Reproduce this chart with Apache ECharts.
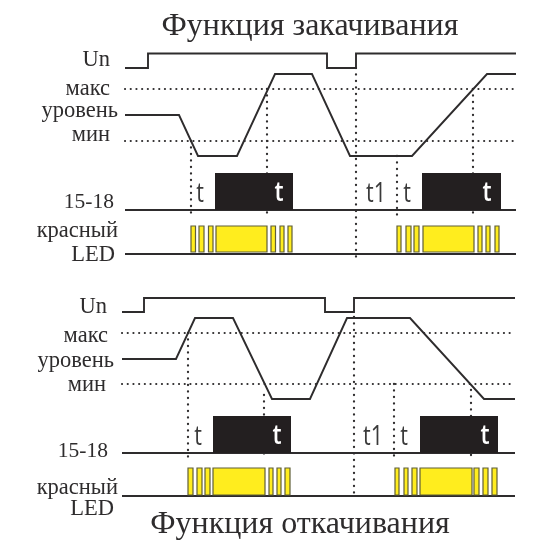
<!DOCTYPE html>
<html><head><meta charset="utf-8">
<style>html,body{margin:0;padding:0;background:#fff}#c{width:550px;height:550px}</style>
<script src="https://cdn.jsdelivr.net/npm/echarts@6/dist/echarts.min.js"></script>
</head><body><div id="c"></div>
<script>
// x = time units, y = signal height units inside each panel
const topUn = [[0,192],[23,192],[23,206.5],[202,206.5],[202,192],[231,192],[231,206.5],[391,206.5]];
const topLevel = [[0,145],[54,145],[73,104],[112,104],[150,186],[187,186],[225,104],[287,104],[362,186],[391,186]];
const topMax = 171, topMin = 119;
const topGuides = [[66,119,43],[142,171,43],[231,192,2],[272,104,43],[348,171,43]];
const topRelay = [[90,168],[297,376]];
const topRelayBase = 50, topRelayHigh = 87;
const topLed = [[66,70.5],[74,79],[83.5,88],[91,142],[146,150.5],[155,159],[163,167],[272,276],[281,286],[289,294],[298,349],[353,357],[361,365],[370,374]];
const topLedBase = 6, topLedLow = 8, topLedHigh = 34;

const botUn = [[0,188],[22,188],[22,202],[203,202],[203,188],[232,188],[232,202],[393,202]];
const botLevel = [[0,141],[54,141],[73,182],[111,182],[150,101],[188,101],[225,182],[288,182],[362,101],[393,101]];
const botMax = 167, botMin = 116;
const botGuides = [[66,167,42],[142,105,42],[232,183,2],[272,116,42],[349,110,42]];
const botRelay = [[91,169],[298,376]];
const botRelayBase = 47, botRelayHigh = 84;
const botLed = [[66,71],[75,80],[83,88],[91,143],[147,151],[155,159],[163,168],[273,277],[282,286],[290,295],[298,350],[352,357],[361,366],[370,375]];
const botLedBase = 4, botLedLow = 5, botLedHigh = 32;

const laneLabels = ['Un','макс','уровень','мин','15-18','красный','LED'];
const topLabelRight = [110,110,118,110,114,118,115];
const topLabelY = [60,89,111,135,202,231,255];
const botLabelRight = [107,108,114,106,108,118,114];
const botLabelY = [307,336,361,385,451,488,509];
const titles = ['Функция закачивания','Функция откачивания'];

const INK = '#2e2c2d';
const ser = [];
const line = (g, data, w, dash) => ser.push({
  type:'line', xAxisIndex:g, yAxisIndex:g, data, showSymbol:false, symbol:'none', silent:true,
  z: dash ? 1 : 3, clip:false,
  lineStyle:{color:INK, width:w, type: dash ? [0.1,dash] : 'solid', cap: dash ? 'round':'butt', join:'miter'}
});
const rects = (g, data, low, high, fill, stroke, z) => ser.push({
  type:'custom', xAxisIndex:g, yAxisIndex:g, silent:true, z, clip:false,
  data: data.map(d => [d[0], d[1], low, high]),
  encode:{x:[0,1], y:[2,3]},
  renderItem:(p, api) => {
    const a = api.coord([api.value(0), api.value(3)]);
    const b = api.coord([api.value(1), api.value(2)]);
    return {type:'rect', shape:{x:a[0], y:a[1], width:b[0]-a[0], height:b[1]-a[1]},
      style:{fill, stroke, lineWidth: stroke ? 1.2 : 0}};
  }
});
function panel(g, un, level, max, min, guides, relay, rb, rh, led, lb, ll, lh, xEnd){
  line(g, [[0,max],[xEnd,max]], 2.1, 5.6);
  line(g, [[0,min],[xEnd,min]], 2.1, 5.6);
  guides.forEach(v => line(g, [[v[0],v[1]],[v[0],v[2]]], 2.3, 6.4));
  line(g, un, 1.9);
  line(g, level, 1.9);
  rects(g, relay, rb, rh, '#231f20', null, 4);
  line(g, [[0,rb],[xEnd,rb]], 1.9);
  rects(g, led, ll, lh, '#ffed1e', '#5f5e38', 4);
  line(g, [[0,lb],[xEnd,lb]], 2);
}
panel(0, topUn, topLevel, topMax, topMin, topGuides, topRelay, topRelayBase, topRelayHigh, topLed, topLedBase, topLedLow, topLedHigh, 391);
panel(1, botUn, botLevel, botMax, botMin, botGuides, botRelay, botRelayBase, botRelayHigh, botLed, botLedBase, botLedLow, botLedHigh, 393);

const SERIF = '"Liberation Serif", serif';
const txt = (s, x, y, size, align, fam, fill, weight, sx) => ({type:'text', silent:true, z:10, x, y, scaleX:sx||1,
  style:{text:s, fontSize:size, fontFamily:fam||SERIF, fill:fill||INK, textAlign:align, textVerticalAlign:'middle', fontWeight:weight||400}});
const gfx = [
  txt(titles[0], 310, 27, 32, 'center'),
  txt(titles[1], 300, 525, 32, 'center')
];
laneLabels.forEach((s,i) => {
  const size = i===4 ? 21.5 : 22.5;
  gfx.push(txt(s, topLabelRight[i], topLabelY[i], size, 'right'));
  gfx.push(txt(s, botLabelRight[i], botLabelY[i], size, 'right'));
});
const SANS = '"Open Sans", "Noto Sans", sans-serif';
[['t',200,194],['t1',376,194],['t',407,194]].forEach(a => gfx.push(txt(a[0],a[1],a[2],27,'center',SANS,'#3a3a3a',400,0.8)));
[['t',279,193],['t',487,193]].forEach(a => gfx.push(txt(a[0],a[1],a[2],27,'center',SANS,'#fff',600,0.85)));
[['t',198,437],['t1',373,437],['t',404,437]].forEach(a => gfx.push(txt(a[0],a[1],a[2],27,'center',SANS,'#3a3a3a',400,0.8)));
[['t',277,436],['t',485,436]].forEach(a => gfx.push(txt(a[0],a[1],a[2],27,'center',SANS,'#fff',600,0.85)));

const chart = echarts.init(document.getElementById('c'), null, {renderer:'canvas'});
const hiddenX = (g,max) => ({type:'value', gridIndex:g, min:0, max, show:false});
const hiddenY = (g,max) => ({type:'value', gridIndex:g, min:0, max, show:false});
chart.setOption({
  animation:false, backgroundColor:'#fff',
  grid:[{left:125, top:50, width:391, height:210},{left:122, top:295, width:393, height:205}],
  xAxis:[hiddenX(0,391), hiddenX(1,393)],
  yAxis:[hiddenY(0,210), hiddenY(1,205)],
  series:ser, graphic:gfx
});
</script></body></html>
